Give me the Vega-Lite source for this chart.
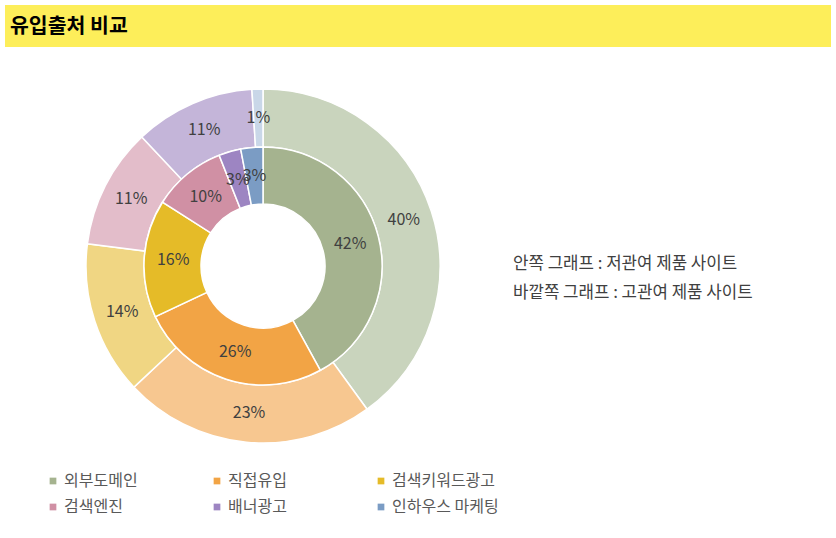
{
  "$schema": "https://vega.github.io/schema/vega-lite/v6.json",
  "background": "white",
  "padding": 5,
  "config": {
    "font": "Noto Sans CJK KR",
    "view": {"stroke": null}
  },
  "spacing": 29,
  "vconcat": [
    {
      "width": 826,
      "height": 42,
      "view": {"fill": "#fdee5a", "stroke": null},
      "title": {
        "text": "유입출처 비교",
        "anchor": "start",
        "frame": "group",
        "offset": -32,
        "dx": 5,
        "fontSize": 20.5,
        "fontWeight": "bold",
        "color": "#000000"
      },
      "data": {"values": [{}]},
      "mark": {"type": "text"},
      "encoding": {"text": {"value": ""}}
    },
    {
      "spacing": -9,
      "hconcat": [
        {
          "width": 516,
          "height": 380,
          "data": {
            "values": [
              {"ring": "inner", "source": "외부도메인", "share": 0.42, "rank": 1},
              {"ring": "inner", "source": "직접유입", "share": 0.26, "rank": 2},
              {"ring": "inner", "source": "검색키워드광고", "share": 0.16, "rank": 3},
              {"ring": "inner", "source": "검색엔진", "share": 0.10, "rank": 4},
              {"ring": "inner", "source": "배너광고", "share": 0.03, "rank": 5},
              {"ring": "inner", "source": "인하우스 마케팅", "share": 0.03, "rank": 6},
              {"ring": "outer", "source": "외부도메인", "share": 0.40, "rank": 1},
              {"ring": "outer", "source": "직접유입", "share": 0.23, "rank": 2},
              {"ring": "outer", "source": "검색키워드광고", "share": 0.14, "rank": 3},
              {"ring": "outer", "source": "검색엔진", "share": 0.11, "rank": 4},
              {"ring": "outer", "source": "배너광고", "share": 0.11, "rank": 5},
              {"ring": "outer", "source": "인하우스 마케팅", "share": 0.01, "rank": 6}
            ]
          },
          "encoding": {
            "theta": {"field": "share", "type": "quantitative", "stack": true},
            "order": {"field": "rank", "type": "quantitative"}
          },
          "layer": [
            {
              "transform": [{"filter": "datum.ring === 'outer'"}],
              "mark": {"type": "arc", "radius": 177, "radius2": 119, "stroke": "white", "strokeWidth": 1.5},
              "encoding": {
                "color": {
                  "field": "source",
                  "type": "nominal",
                  "scale": {
                    "domain": ["외부도메인", "직접유입", "검색키워드광고", "검색엔진", "배너광고", "인하우스 마케팅"],
                    "range": ["#c9d4bd", "#f7c790", "#f0d683", "#e3bdca", "#c4b5d9", "#c9d7e8"]
                  },
                  "legend": null
                }
              }
            },
            {
              "transform": [{"filter": "datum.ring === 'inner'"}],
              "mark": {"type": "arc", "radius": 119, "radius2": 62, "stroke": "white", "strokeWidth": 1.5},
              "encoding": {
                "color": {
                  "field": "source",
                  "type": "nominal",
                  "sort": null,
                  "scale": {
                    "domain": ["외부도메인", "직접유입", "검색키워드광고", "검색엔진", "배너광고", "인하우스 마케팅"],
                    "range": ["#a5b38f", "#f2a445", "#e5bb28", "#d090a4", "#9d85c2", "#7b9cc4"]
                  },
                  "legend": {
                    "title": null,
                    "orient": "none",
                    "legendX": 40,
                    "legendY": 397,
                    "direction": "horizontal",
                    "columns": 3,
                    "gridAlign": "all",
                    "columnPadding": 38,
                    "rowPadding": 10,
                    "symbolType": "square",
                    "symbolSize": 45,
                    "symbolStrokeWidth": 0,
                    "labelOffset": 3,
                    "labelFontSize": 16,
                    "labelColor": "#595959",
                    "labelLimit": 200
                  }
                }
              }
            },
            {
              "transform": [{"filter": "datum.ring === 'outer'"}],
              "mark": {"type": "text", "radius": 148, "fontSize": 16, "color": "#404040"},
              "encoding": {"text": {"field": "share", "type": "quantitative", "format": ".0%"}}
            },
            {
              "transform": [{"filter": "datum.ring === 'inner'"}],
              "mark": {"type": "text", "radius": 90, "fontSize": 16, "color": "#404040"},
              "encoding": {"text": {"field": "share", "type": "quantitative", "format": ".0%"}}
            }
          ],
          "resolve": {"scale": {"color": "independent"}}
        },
        {
          "width": 270,
          "height": 380,
          "data": {
            "values": [
              {"line": 1, "note": "안쪽 그래프 : 저관여 제품 사이트"},
              {"line": 2, "note": "바깥쪽 그래프 : 고관여 제품 사이트"}
            ]
          },
          "mark": {"type": "text", "align": "left", "baseline": "middle", "dx": -8, "fontSize": 16.8, "color": "#404040"},
          "encoding": {
            "x": {"value": 0},
            "y": {
              "field": "line",
              "type": "quantitative",
              "scale": {"domain": [-5.48, 7.62], "reverse": true, "nice": false, "zero": false},
              "axis": null
            },
            "text": {"field": "note", "type": "nominal"}
          }
        }
      ]
    }
  ]
}
